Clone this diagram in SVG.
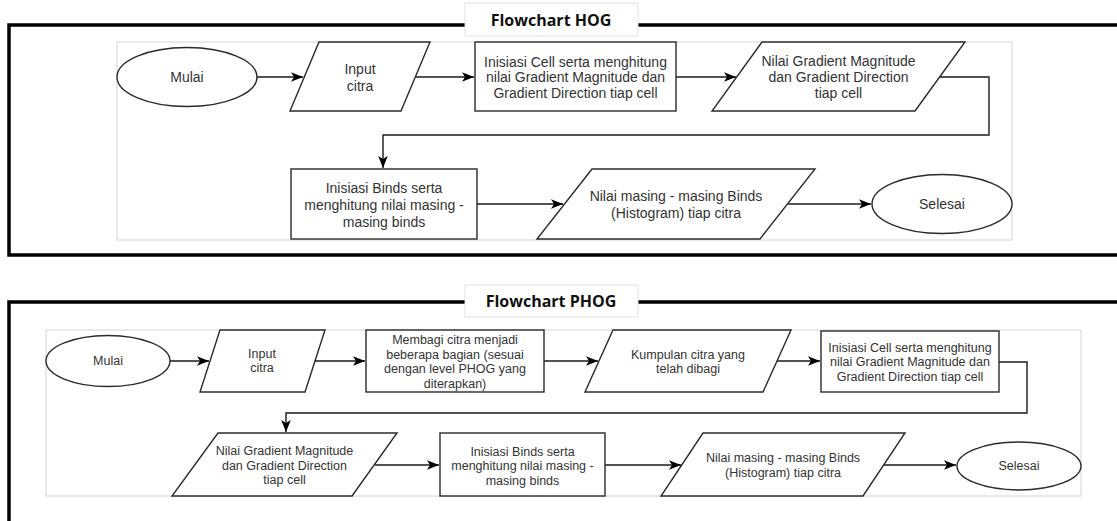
<svg xmlns="http://www.w3.org/2000/svg" width="1117" height="521" viewBox="0 0 1117 521">
<style>
.frame{fill:none;stroke:#000;stroke-width:3.5}
.inner{fill:#fff;stroke:#d4d4d4;stroke-width:1}
.title{fill:#fff;stroke:#e2e2e2;stroke-width:1}
.tt{font-family:"Open Sans","Liberation Sans",sans-serif;font-weight:bold;font-size:16px;fill:#111;text-anchor:middle;dominant-baseline:central}
.shape{fill:#fff;stroke:#2a2a2a;stroke-width:1.4}
.t1{font-family:"Liberation Sans",Arial,sans-serif;font-size:14px;fill:#333;text-anchor:middle;dominant-baseline:central}
.t2{font-family:"Liberation Sans",Arial,sans-serif;font-size:12.5px;fill:#333;text-anchor:middle;dominant-baseline:central}
.conn{fill:none;stroke:#1a1a1a;stroke-width:1.4}
</style>
<defs>
<marker id="arr" markerUnits="userSpaceOnUse" markerWidth="12" markerHeight="12" viewBox="0 0 10 10" refX="10" refY="5" orient="auto">
<path d="M0,1 L10,5 L0,9 L2.5,5 z" fill="#000"/>
</marker>
</defs>

<g id="hog-frame">
<rect class="frame" x="9" y="25" width="1130" height="230"/>
<rect class="inner" x="117" y="42" width="895" height="198"/>
<rect class="title" x="465" y="3" width="173" height="33"/>
<text class="tt" x="551" y="20">Flowchart HOG</text>
</g>

<g id="hog-connectors">
<path class="conn" d="M257,77 H303" marker-end="url(#arr)"/>
<path class="conn" d="M416,77 H474" marker-end="url(#arr)"/>
<path class="conn" d="M676,77 H736" marker-end="url(#arr)"/>
<path class="conn" d="M940,77 H989 V135 H383 V168" marker-end="url(#arr)"/>
<path class="conn" d="M477,204 H563" marker-end="url(#arr)"/>
<path class="conn" d="M788,204 H871" marker-end="url(#arr)"/>
</g>

<g id="hog-mulai">
<ellipse class="shape" cx="187" cy="77" rx="70" ry="29.5"/>
<text class="t1" x="187" y="77">Mulai</text>
</g>
<g id="hog-input">
<polygon class="shape" points="319,42 430,42 401,111 290,111"/>
<text class="t1" x="360" y="69">Input</text>
<text class="t1" x="360" y="86">citra</text>
</g>
<g id="hog-cell">
<rect class="shape" x="475" y="42" width="201" height="69"/>
<text class="t1" x="575.5" y="61.5">Inisiasi Cell serta menghitung</text>
<text class="t1" x="575.5" y="77">nilai Gradient Magnitude dan</text>
<text class="t1" x="575.5" y="92.5">Gradient Direction tiap cell</text>
</g>
<g id="hog-gradient">
<polygon class="shape" points="762,42 965,42 915,111 712,111"/>
<text class="t1" x="838.5" y="61">Nilai Gradient Magnitude</text>
<text class="t1" x="838.5" y="77">dan Gradient Direction</text>
<text class="t1" x="838.5" y="93">tiap cell</text>
</g>
<g id="hog-binds">
<rect class="shape" x="291" y="169" width="186" height="70"/>
<text class="t1" x="384" y="188">Inisiasi Binds serta</text>
<text class="t1" x="384" y="205">menghitung nilai masing -</text>
<text class="t1" x="384" y="222">masing binds</text>
</g>
<g id="hog-nilai">
<polygon class="shape" points="592,169 815,169 760,239 537,239"/>
<text class="t1" x="676" y="196">Nilai masing - masing Binds</text>
<text class="t1" x="676" y="213">(Histogram) tiap citra</text>
</g>
<g id="hog-selesai">
<ellipse class="shape" cx="942" cy="204" rx="70" ry="29.5"/>
<text class="t1" x="942" y="204">Selesai</text>
</g>

<g id="phog-frame">
<rect class="frame" x="9" y="302" width="1130" height="240"/>
<rect class="inner" x="46" y="330" width="1035" height="166"/>
<rect class="title" x="465" y="285" width="173" height="32"/>
<text class="tt" x="551" y="301">Flowchart PHOG</text>
</g>

<g id="phog-connectors">
<path class="conn" d="M170,361 H209" marker-end="url(#arr)"/>
<path class="conn" d="M315,361 H365" marker-end="url(#arr)"/>
<path class="conn" d="M544,361 H598" marker-end="url(#arr)"/>
<path class="conn" d="M777,361 H820" marker-end="url(#arr)"/>
<path class="conn" d="M999,362 H1027 V413 H286 V432" marker-end="url(#arr)"/>
<path class="conn" d="M375,465 H439" marker-end="url(#arr)"/>
<path class="conn" d="M605,465 H681" marker-end="url(#arr)"/>
<path class="conn" d="M884,465 H956" marker-end="url(#arr)"/>
</g>

<g id="phog-mulai">
<ellipse class="shape" cx="108" cy="361" rx="62" ry="25.5"/>
<text class="t2" x="108" y="361">Mulai</text>
</g>
<g id="phog-input">
<polygon class="shape" points="220,330 325,330 305,392 200,392"/>
<text class="t2" x="262" y="354">Input</text>
<text class="t2" x="262" y="368">citra</text>
</g>
<g id="phog-membagi">
<rect class="shape" x="366" y="330" width="178" height="62"/>
<text class="t2" x="455" y="340">Membagi citra menjadi</text>
<text class="t2" x="455" y="354.5">beberapa bagian (sesuai</text>
<text class="t2" x="455" y="369">dengan level PHOG yang</text>
<text class="t2" x="455" y="383.5">diterapkan)</text>
</g>
<g id="phog-kumpulan">
<polygon class="shape" points="613,330 791,330 763,392 585,392"/>
<text class="t2" x="688" y="355">Kumpulan citra yang</text>
<text class="t2" x="688" y="369">telah dibagi</text>
</g>
<g id="phog-cell">
<rect class="shape" x="821" y="331" width="178" height="61"/>
<text class="t2" x="910" y="347.5">Inisiasi Cell serta menghitung</text>
<text class="t2" x="910" y="362">nilai Gradient Magnitude dan</text>
<text class="t2" x="910" y="376.5">Gradient Direction tiap cell</text>
</g>
<g id="phog-gradient">
<polygon class="shape" points="218,433 397,433 352,496 172,496"/>
<text class="t2" x="284.5" y="451">Nilai Gradient Magnitude</text>
<text class="t2" x="284.5" y="465.5">dan Gradient Direction</text>
<text class="t2" x="284.5" y="480">tiap cell</text>
</g>
<g id="phog-binds">
<rect class="shape" x="440" y="433" width="165" height="63"/>
<text class="t2" x="522.5" y="451.5">Inisiasi Binds serta</text>
<text class="t2" x="522.5" y="466">menghitung nilai masing -</text>
<text class="t2" x="522.5" y="480.5">masing binds</text>
</g>
<g id="phog-nilai">
<polygon class="shape" points="703,433 905,433 863,496 661,496"/>
<text class="t2" x="783" y="458">Nilai masing - masing Binds</text>
<text class="t2" x="783" y="473">(Histogram) tiap citra</text>
</g>
<g id="phog-selesai">
<ellipse class="shape" cx="1019" cy="466" rx="62" ry="24"/>
<text class="t2" x="1019" y="466">Selesai</text>
</g>
</svg>
